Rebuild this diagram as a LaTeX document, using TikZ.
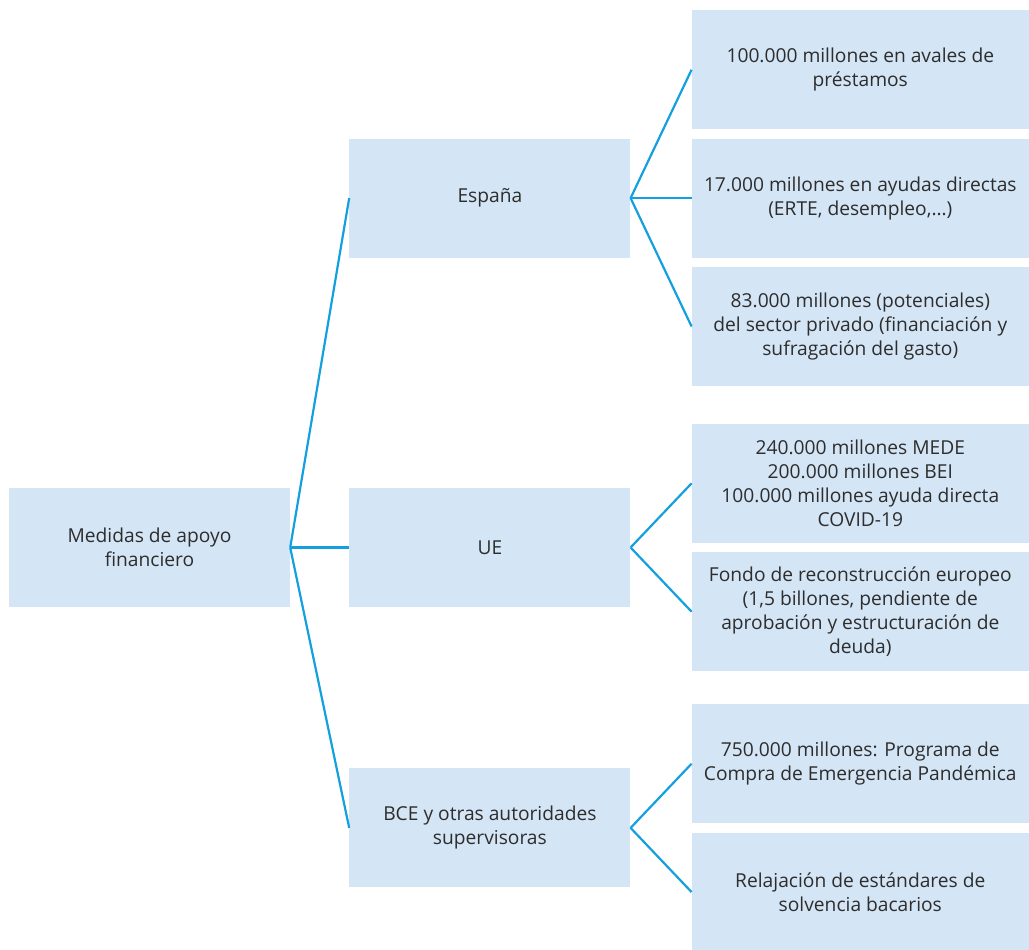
\documentclass[tikz,border=0pt]{standalone}
\usepackage{fontspec}
\setmainfont{Open Sans}
\usepackage{tikz}
\usetikzlibrary{positioning}
\definecolor{colorbox}  {RGB}{212,229,245}
\definecolor{colorline} {RGB}{ 20,160,222}
\definecolor{colortext} {RGB}{ 45, 45, 45}

\begin{document}
\begin{tikzpicture}[
    font={\fontsize{19.2}{24}\selectfont},
    base/.style={fill=colorbox,text=colortext,inner sep=0pt,align=center,rectangle,
                 minimum width=281pt,minimum height=119pt},
    leaf/.style={base,minimum width=337pt},
    link/.style={draw=colorline,line width=2.2pt},
]
    \useasboundingbox (-149.5pt,-402.5pt) rectangle (879.5pt,547.5pt);

    \node[base]                       (root)   {Medidas de apoyo\\financiero};

    \node[base,right=59pt of root]    (ue)     {UE};
    \node[base,above=230pt of ue]     (espana) {España};
    \node[base,below=161pt of ue]     (bce)    {BCE y otras autoridades\\supervisoras};

    \node[leaf,right=61pt of espana]  (ayudas)  {17.000 millones en ayudas directas\\(ERTE, desempleo,\ldots)};
    \node[leaf,above=9pt of ayudas]   (avales)  {100.000 millones en avales de\\préstamos};
    \node[leaf,below=9pt of ayudas]   (privado) {83.000 millones (potenciales)\\del sector privado (financiación y\\sufragación del gasto)};

    \node[leaf,above right=4.5pt and 61pt of ue.east] (mede)  {240.000 millones MEDE\\200.000 millones BEI\\100.000 millones ayuda directa\\COVID-19};
    \node[leaf,below=9pt of mede]     (fondo)   {Fondo de reconstrucción europeo\\(1,5 billones, pendiente de\\aprobación y estructuración de\\deuda)};

    \node[leaf,above right=4.5pt and 61pt of bce.east] (compra) {750.000 millones: Programa de\\Compra de Emergencia Pandémica};
    \node[leaf,below=9pt of compra]   (solvencia) {Relajación de estándares de\\solvencia bacarios};

    \draw[link](root.east) -- (espana.west);
    \draw[link](root.east) -- (ue.west);
    \draw[link](root.east) -- (bce.west);

    \draw[link](espana.east) -- (avales.west);
    \draw[link](espana.east) -- (ayudas.west);
    \draw[link](espana.east) -- (privado.west);

    \draw[link](ue.east) -- (mede.west);
    \draw[link](ue.east) -- (fondo.west);

    \draw[link](bce.east) -- (compra.west);
    \draw[link](bce.east) -- (solvencia.west);

\end{tikzpicture}
\end{document}
